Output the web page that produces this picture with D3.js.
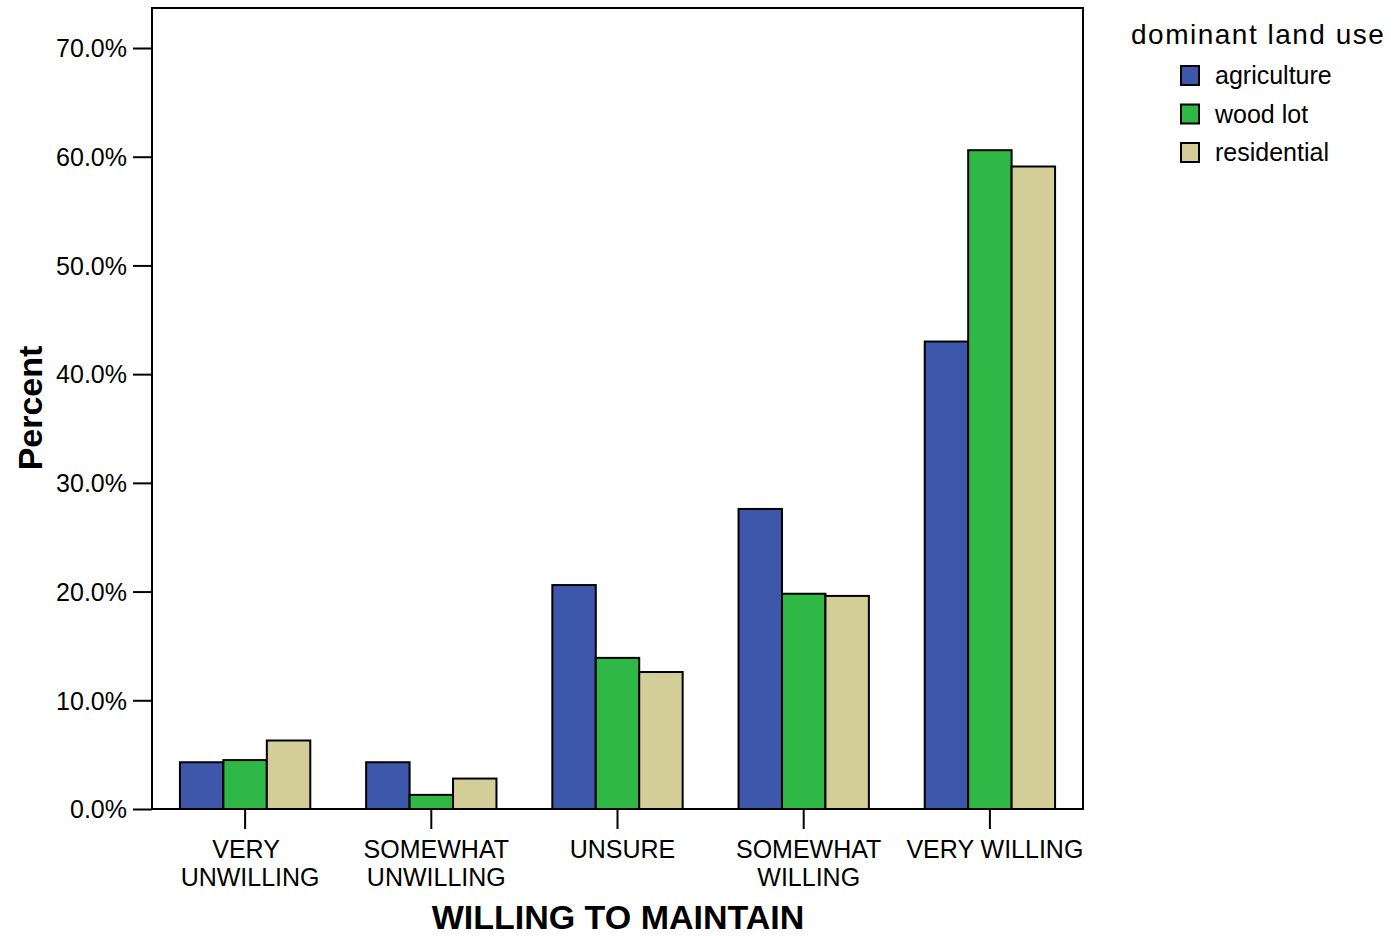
<!DOCTYPE html>
<html><head><meta charset="utf-8">
<script src="https://cdn.jsdelivr.net/npm/d3@7"></script>
<style>body{margin:0;background:#fff}text{font-family:"Liberation Sans",Arial,sans-serif;fill:#000}</style>
</head><body><svg id="c" width="1395" height="936"></svg>
<script>
const categories = [["VERY","UNWILLING"],["SOMEWHAT","UNWILLING"],["UNSURE"],["SOMEWHAT","WILLING"],["VERY WILLING"]];
const seriesNames = ["agriculture","wood lot","residential"];
const agriculture = [4.3, 4.3, 20.6, 27.6, 43.0];
const woodLot = [4.5, 1.3, 13.9, 19.8, 60.6];
const residential = [6.3, 2.8, 12.6, 19.6, 59.1];
const yTicks = [0,10,20,30,40,50,60,70];
const colors = ["#3d57aa","#30b847","#d3cd98"];
const seriesVals = [agriculture, woodLot, residential];

const svg = d3.select("#c");
const L=152, R=1083, T=8, B=809;
const x = d3.scaleBand().domain(d3.range(categories.length)).range([L,R]).paddingInner(0.3).paddingOuter(0.15);
const xs = d3.scaleBand().domain(d3.range(3)).range([0,x.bandwidth()]);
const y = d3.scaleLinear().domain([0,70]).range([B,48]);

categories.forEach((c,i)=>{
  seriesVals.forEach((s,j)=>{
    svg.append("rect").attr("x",x(i)+xs(j)).attr("y",y(s[i])).attr("width",xs.bandwidth()).attr("height",B-y(s[i]))
      .attr("fill",colors[j]).attr("stroke","#000").attr("stroke-width",2);
  });
});
svg.append("rect").attr("x",L).attr("y",T).attr("width",R-L).attr("height",B-T).attr("fill","none").attr("stroke","#000").attr("stroke-width",2);

const ya = svg.append("g").attr("transform",`translate(${L},0)`)
  .call(d3.axisLeft(y).tickValues(yTicks).tickSize(19).tickPadding(6).tickFormat(d=>d.toFixed(1)+"%"));
ya.select(".domain").remove();
ya.selectAll("line").attr("stroke","#000").attr("stroke-width",2);
ya.selectAll("text").attr("font-size",25).attr("font-family","Liberation Sans, Arial").attr("fill","#000").attr("dy","0.35em");

const xa = svg.append("g").attr("transform",`translate(0,${B})`)
  .call(d3.axisBottom(x).tickSize(20).tickFormat(""));
xa.select(".domain").remove();
xa.selectAll("line").attr("stroke","#000").attr("stroke-width",2);
categories.forEach((c,i)=>{
  const cx = x(i)+x.bandwidth()/2+5;
  const t = svg.append("text").attr("x",cx).attr("y",858).attr("text-anchor","middle").attr("font-size",25);
  c.forEach((ln,k)=>t.append("tspan").attr("x",cx + (i===0&&k===0?-4:0)).attr("dy",k?28:0).text(ln));
});

svg.append("text").attr("x",618).attr("y",929).attr("text-anchor","middle").attr("font-size",34).attr("font-weight","bold").text("WILLING TO MAINTAIN");
svg.append("text").attr("transform","translate(42,408) rotate(-90)").attr("text-anchor","middle").attr("font-size",34).attr("font-weight","bold").text("Percent");

svg.append("text").attr("x",1131).attr("y",44).attr("font-size",28).attr("letter-spacing",1.5).text("dominant land use");
seriesNames.forEach((n,j)=>{
  const yy = 66 + j*38.5;
  svg.append("rect").attr("x",1181).attr("y",yy).attr("width",18).attr("height",19).attr("fill",colors[j]).attr("stroke","#000").attr("stroke-width",2);
  svg.append("text").attr("x",1215).attr("y",yy+18).attr("font-size",25).text(n);
});
</script></body></html>
